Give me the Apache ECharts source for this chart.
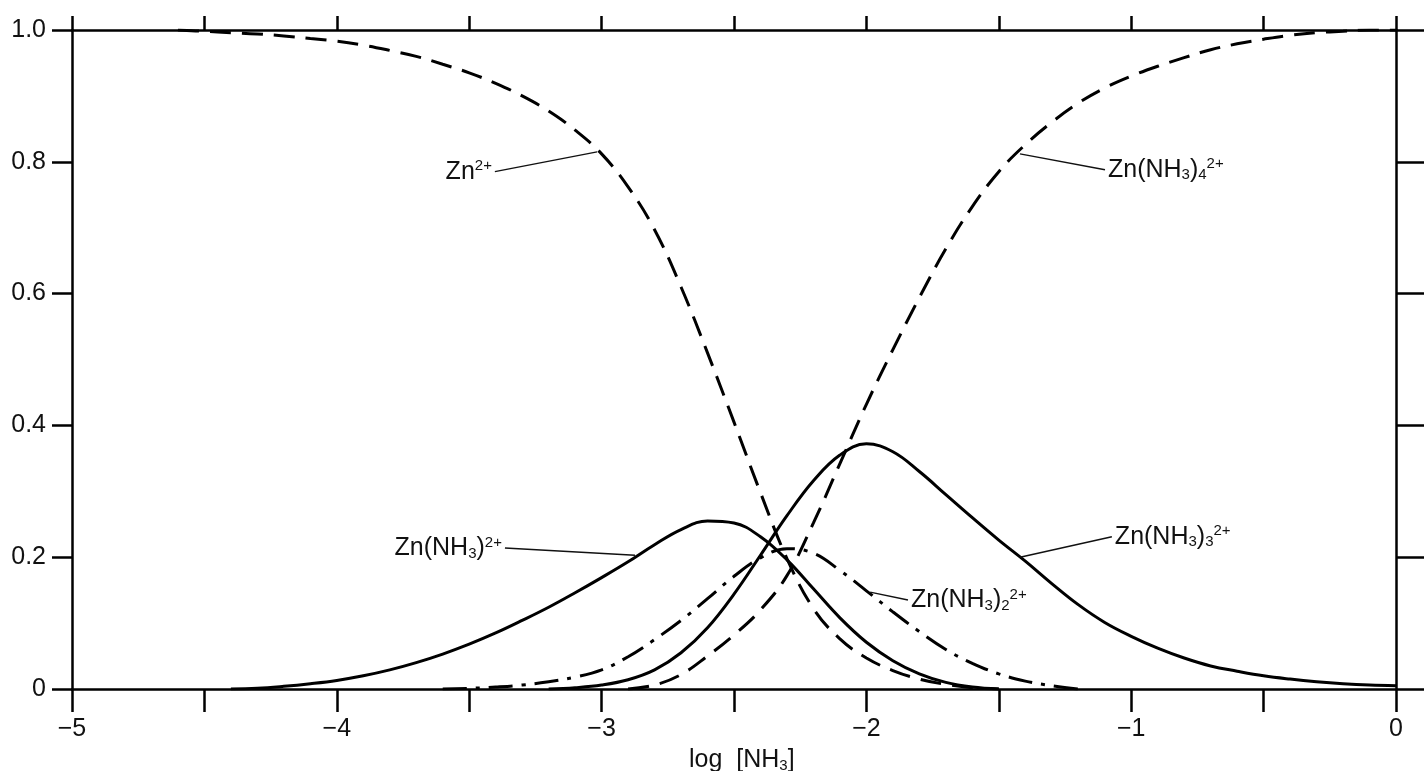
<!DOCTYPE html>
<html>
<head>
<meta charset="utf-8">
<script src="https://cdn.jsdelivr.net/npm/echarts@6/dist/echarts.min.js"></script>
<style>
html,body{margin:0;padding:0;background:#fff;}
#c{width:1426px;height:771px;}
</style>
</head>
<body>
<div id="c"></div>
<script>
// ---- data ----
var xTicks = [-5, -4, -3, -2, -1, 0];
var yTicks = [0, 0.2, 0.4, 0.6, 0.8, 1.0];

// Zn2+ (dashed)
var zn = [[-4.6,1.000],[-4.5,0.998],[-4.4,0.996],[-4.3,0.994],[-4.2,0.991],[-4.1,0.987],[-4.0,0.983],[-3.9,0.977],[-3.8,0.969],[-3.7,0.960],[-3.6,0.948],[-3.5,0.935],[-3.4,0.919],[-3.3,0.900],[-3.2,0.877],[-3.1,0.848],[-3.0,0.812],[-2.9,0.762],[-2.8,0.697],[-2.7,0.610],[-2.6,0.510],[-2.5,0.405],[-2.4,0.298],[-2.3,0.198],[-2.2,0.122],[-2.1,0.076],[-2.0,0.047],[-1.9,0.028],[-1.8,0.015],[-1.7,0.007],[-1.6,0.002],[-1.5,0]];

// Zn(NH3)2+ (solid, small peak)
var znNH3 = [[-4.4,0],[-4.3,0.001],[-4.2,0.004],[-4.1,0.008],[-4.0,0.013],[-3.9,0.020],[-3.8,0.029],[-3.7,0.040],[-3.6,0.053],[-3.5,0.068],[-3.4,0.085],[-3.3,0.104],[-3.2,0.124],[-3.1,0.146],[-3.0,0.169],[-2.9,0.193],[-2.8,0.219],[-2.7,0.242],[-2.6,0.255],[-2.5,0.252],[-2.4,0.231],[-2.3,0.196],[-2.2,0.152],[-2.1,0.108],[-2.0,0.071],[-1.9,0.043],[-1.8,0.023],[-1.7,0.010],[-1.6,0.003],[-1.5,0]];

// Zn(NH3)2 2+ (dash-dot)
var znNH3_2 = [[-3.6,0],[-3.5,0.001],[-3.4,0.003],[-3.3,0.006],[-3.2,0.011],[-3.1,0.018],[-3.0,0.029],[-2.9,0.049],[-2.8,0.075],[-2.7,0.104],[-2.6,0.137],[-2.5,0.171],[-2.4,0.199],[-2.3,0.213],[-2.2,0.206],[-2.1,0.180],[-2.0,0.149],[-1.9,0.117],[-1.8,0.087],[-1.7,0.060],[-1.6,0.039],[-1.5,0.023],[-1.4,0.012],[-1.3,0.005],[-1.2,0]];

// Zn(NH3)3 2+ (solid, big peak)
var znNH3_3 = [[-3.2,0],[-3.1,0.002],[-3.0,0.006],[-2.9,0.014],[-2.8,0.029],[-2.7,0.055],[-2.6,0.093],[-2.5,0.144],[-2.4,0.203],[-2.3,0.263],[-2.2,0.316],[-2.1,0.355],[-2.0,0.372],[-1.9,0.360],[-1.8,0.330],[-1.7,0.295],[-1.6,0.260],[-1.5,0.226],[-1.4,0.194],[-1.3,0.160],[-1.2,0.128],[-1.1,0.101],[-1.0,0.080],[-0.9,0.062],[-0.8,0.047],[-0.7,0.035],[-0.6,0.027],[-0.5,0.020],[-0.4,0.015],[-0.3,0.011],[-0.2,0.008],[-0.1,0.006],[0,0.005]];

// Zn(NH3)4 2+ (dashed)
var znNH3_4 = [[-2.9,0],[-2.8,0.006],[-2.7,0.022],[-2.6,0.050],[-2.5,0.082],[-2.4,0.120],[-2.3,0.172],[-2.2,0.252],[-2.1,0.342],[-2.0,0.432],[-1.9,0.515],[-1.8,0.594],[-1.7,0.668],[-1.6,0.732],[-1.5,0.785],[-1.4,0.826],[-1.3,0.860],[-1.2,0.889],[-1.1,0.912],[-1.0,0.930],[-0.9,0.945],[-0.8,0.958],[-0.7,0.970],[-0.6,0.979],[-0.5,0.986],[-0.4,0.992],[-0.3,0.996],[-0.2,0.998],[-0.1,1.0],[0,1.0]];

// label anchors: [textEnd, curvePoint]
var lblZn      = [[-3.403,0.785],[-3.017,0.815]];
var lblZnNH3   = [[-3.365,0.214],[-2.874,0.203]];
var lblZnNH3_2 = [[-1.843,0.135],[-1.986,0.147]];
var lblZnNH3_3 = [[-1.073,0.231],[-1.42,0.200]];
var lblZnNH3_4 = [[-1.099,0.788],[-1.42,0.812]];

var FONT = '"Liberation Sans", Arial, Helvetica, sans-serif';
var FS = 25;
var SS = 15;
var rich = {
  t:  {fontSize: FS, fontFamily: FONT, color: '#111', fontWeight: 'normal'},
  sb: {fontSize: SS, fontFamily: FONT, color: '#111', fontWeight: 'normal', padding: [11,0,0,0]},
  sp: {fontSize: SS, fontFamily: FONT, color: '#111', fontWeight: 'normal', padding: [0,0,11,0]}
};

function pointer(seg, text, side) {
  return {
    markLine: {
      silent: true, animation: false, symbol: ['none','none'],
      lineStyle: {type: 'solid', width: 1.4, color: '#111'},
      label: {show: false},
      data: [[{coord: seg[0]}, {coord: seg[1]}]]
    },
    markPoint: {
      silent: true, animation: false, symbol: 'circle', symbolSize: 0,
      data: [{coord: seg[0]}],
      label: {show: true, position: side, distance: 3, formatter: text, rich: rich}
    }
  };
}

var dashed = [21, 11];
var dashDot = [24, 9, 4, 9];

function line(name, data, type, lbl) {
  var s = {
    name: name, type: 'line', data: data, showSymbol: false, symbol: 'none',
    smooth: 0.4, animation: false, silent: true,
    lineStyle: {color: '#000', width: 3, type: type, cap: 'butt'},
    z: 3
  };
  return Object.assign(s, lbl);
}

var chart = echarts.init(document.getElementById('c'), null, {renderer: 'canvas'});
var axisColor = '#000';
chart.setOption({
  backgroundColor: '#fff',
  animation: false,
  grid: {left: 72, right: 30, top: 30, bottom: 82, containLabel: false},
  title: {
    text: '{a|log  [NH}{b|3}{a|]}',
    left: 684, top: 742,
    textStyle: {fontWeight: 'normal', rich: {
      a: {fontSize: FS, fontFamily: FONT, color: '#111', fontWeight: 'normal'},
      b: {fontSize: SS, fontFamily: FONT, color: '#111', fontWeight: 'normal', padding: [11,0,0,0]}
    }}
  },
  xAxis: [{
    type: 'value', min: -5, max: 0, interval: 0.5, position: 'bottom',
    axisLine: {show: true, onZero: false, lineStyle: {color: axisColor, width: 2.5}},
    axisTick: {show: true, inside: false, length: 23, lineStyle: {color: axisColor, width: 2.5}},
    axisLabel: {
      show: true, margin: 28, color: '#111', fontSize: FS, fontFamily: FONT,
      formatter: function (v) {
        if (xTicks.indexOf(v) < 0) return '';
        return v < 0 ? '\u2212' + Math.abs(v) : String(v);
      }
    },
    splitLine: {show: false}
  }, {
    type: 'value', min: -5, max: 0, interval: 0.5, position: 'top',
    axisLine: {show: true, onZero: false, lineStyle: {color: axisColor, width: 2.5}},
    axisTick: {show: true, inside: false, length: 14, lineStyle: {color: axisColor, width: 2.5}},
    axisLabel: {show: false},
    splitLine: {show: false}
  }],
  yAxis: [{
    type: 'value', min: 0, max: 1, interval: 0.2, position: 'left',
    axisLine: {show: true, onZero: false, lineStyle: {color: axisColor, width: 2.5}},
    axisTick: {show: true, inside: false, length: 20, lineStyle: {color: axisColor, width: 2.5}},
    axisLabel: {
      show: true, margin: 26, color: '#111', fontSize: FS, fontFamily: FONT,
      formatter: function (v) {
        var k = yTicks.indexOf(Math.round(v * 10) / 10);
        if (k < 0) return '';
        return v === 0 ? '0' : v.toFixed(1);
      }
    },
    splitLine: {show: false}
  }, {
    type: 'value', min: 0, max: 1, interval: 0.2, position: 'right',
    axisLine: {show: true, onZero: false, lineStyle: {color: axisColor, width: 2.5}},
    axisTick: {show: true, inside: false, length: 28, lineStyle: {color: axisColor, width: 2.5}},
    axisLabel: {show: false},
    splitLine: {show: false}
  }],
  series: [
    line('Zn2+', zn, dashed, pointer(lblZn, '{t|Zn}{sp|2+}', 'left')),
    line('Zn(NH3)2+', znNH3, 'solid', pointer(lblZnNH3, '{t|Zn(NH}{sb|3}{t|)}{sp|2+}', 'left')),
    line('Zn(NH3)2 2+', znNH3_2, dashDot, pointer(lblZnNH3_2, '{t|Zn(NH}{sb|3}{t|)}{sb|2}{sp|2+}', 'right')),
    line('Zn(NH3)3 2+', znNH3_3, 'solid', pointer(lblZnNH3_3, '{t|Zn(NH}{sb|3}{t|)}{sb|3}{sp|2+}', 'right')),
    line('Zn(NH3)4 2+', znNH3_4, dashed, pointer(lblZnNH3_4, '{t|Zn(NH}{sb|3}{t|)}{sb|4}{sp|2+}', 'right'))
  ]
});
</script>
</body>
</html>
